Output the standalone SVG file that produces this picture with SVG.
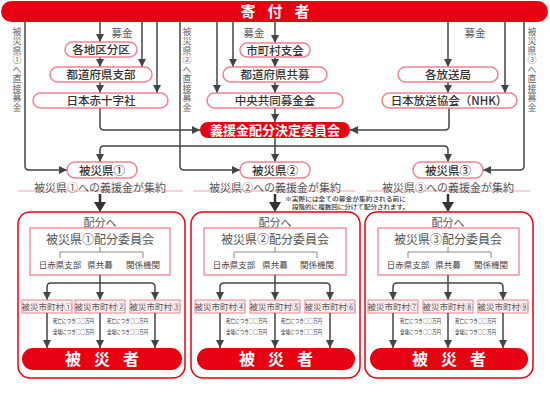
<svg xmlns="http://www.w3.org/2000/svg" width="550" height="400" viewBox="0 0 550 400">
<defs>
<marker id="ah" markerUnits="userSpaceOnUse" markerWidth="8" markerHeight="8" refX="8" refY="4" orient="auto">
<path d="M0,0 L8,4 L0,8 z" fill="#444"/>
</marker>
<style>
text{font-family:"Noto Sans CJK JP","Noto Sans CJK SC",sans-serif}
.lk{fill:none;stroke:#444;stroke-width:1.5}
.ar{marker-end:url(#ah)}
.nb{fill:#fff;stroke:#f0828f;stroke-width:1.5}
.nt{font-size:11.5px;fill:#333;text-anchor:middle;font-weight:500}
.rb{fill:#e60012}
.rt{fill:#fff;text-anchor:middle;font-weight:700}
.vt{font-size:9px;fill:#666;writing-mode:vertical-rl;letter-spacing:0.5px}
.bk{font-size:10.5px;fill:#555;text-anchor:middle}
.sum{font-size:11px;fill:#555;text-anchor:middle}
.pl{stroke:#f7c3cd;stroke-width:1.5}
.reg{fill:#fff;stroke:#e60012;stroke-width:1.5}
.ib{fill:#fff;stroke:#f0828f;stroke-width:1.3}
.tr{fill:none;stroke:#888;stroke-width:1}
.mb{fill:#fdeef0;stroke:#f0828f;stroke-width:1}
.mt{font-size:8.5px;fill:#555;text-anchor:middle}
.ht{font-size:11px;fill:#555;text-anchor:middle}
.ct{font-size:12px;fill:#555;text-anchor:middle}
.lt{font-size:8.5px;fill:#444;text-anchor:middle}
.sm{font-size:6px;fill:#333}
.nt2{font-size:6px;fill:#333;font-weight:500}
.ha{fill:#333}
</style>
</defs>

<g id="donor">
<rect class="rb" x="1" y="1" width="547" height="21" rx="10.5"/>
<text class="rt" x="275" y="17" font-size="15" letter-spacing="12" dx="6">寄付者</text>
</g>

<g id="labels-top">
<text class="vt" x="17" y="27">被災県①へ直接募金</text>
<text class="vt" x="187" y="27">被災県②へ直接募金</text>
<text class="vt" x="532" y="27">被災県③へ直接募金</text>
<text class="bk" x="122" y="37">募金</text>
<text class="bk" x="254" y="37">募金</text>
<text class="bk" x="475" y="37">募金</text>
</g>

<g id="connectors">
<path class="lk ar" d="M25,22 V166 Q25,170 29,170 H67"/>
<path class="lk ar" d="M100,22 V42"/>
<path class="lk ar" d="M142,22 V67"/>
<path class="lk ar" d="M157,22 V93"/>
<path class="lk ar" d="M180,22 V166 Q180,170 184,170 H240"/>
<path class="lk ar" d="M217,22 V93"/>
<path class="lk ar" d="M233,22 V67"/>
<path class="lk ar" d="M275,22 V43"/>
<path class="lk ar" d="M448,22 V67"/>
<path class="lk ar" d="M505,22 V93"/>
<path class="lk ar" d="M524,22 V166 Q524,170 520,170 H483"/>
<path class="lk ar" d="M100,57 V67"/>
<path class="lk ar" d="M100,82 V93"/>
<path class="lk ar" d="M275,57 V67"/>
<path class="lk ar" d="M275,82 V93"/>
<path class="lk ar" d="M275,108 V122"/>
<path class="lk ar" d="M448,82 V93"/>
<path class="lk ar" d="M100,108 V126 Q100,130 104,130 H200"/>
<path class="lk ar" d="M449,108 V126 Q449,130 445,130 H350"/>
<path class="lk ar" d="M275,138 V162"/>
<path class="lk ar" d="M275,146 H104 Q100,146 100,150 V162"/>
<path class="lk ar" d="M275,146 H444 Q448,146 448,150 V162"/>
</g>

<g id="n-kakuchiku"><rect class="nb" x="65" y="42" width="72" height="15" rx="7.5"/><text class="nt" x="101" y="54">各地区分区</text></g>
<g id="n-todofuken-shibu"><rect class="nb" x="50" y="67" width="102" height="15" rx="7.5"/><text class="nt" x="101" y="79">都道府県支部</text></g>
<g id="n-sekijuji"><rect class="nb" x="33" y="93" width="135" height="15" rx="7.5"/><text class="nt" x="101" y="105">日本赤十字社</text></g>
<g id="n-shichoson-shikai"><rect class="nb" x="240" y="43" width="70" height="14" rx="7"/><text class="nt" x="275" y="54.5">市町村支会</text></g>
<g id="n-todofuken-kyobo"><rect class="nb" x="223" y="67" width="104" height="15" rx="7.5"/><text class="nt" x="275" y="79">都道府県共募</text></g>
<g id="n-chuo"><rect class="nb" x="207" y="93" width="136" height="15" rx="7.5"/><text class="nt" x="275" y="105">中央共同募金会</text></g>
<g id="n-hosokyoku"><rect class="nb" x="398" y="67" width="100" height="15" rx="7.5"/><text class="nt" x="448" y="79">各放送局</text></g>
<g id="n-nhk"><rect class="nb" x="382" y="93" width="135" height="15" rx="7.5"/><text class="nt" x="449" y="105">日本放送協会（NHK）</text></g>
<g id="n-iinkai"><rect class="rb" x="200" y="122" width="150" height="16" rx="8"/><text class="rt" x="275" y="135" font-size="13">義援金配分決定委員会</text></g>

<g id="n-ken1"><rect class="nb" x="67" y="162" width="70" height="16" rx="8"/><text class="nt" x="102" y="174.5" font-size="11">被災県①</text></g>
<g id="n-ken2"><rect class="nb" x="240" y="162" width="70" height="16" rx="8"/><text class="nt" x="275" y="174.5" font-size="11">被災県②</text></g>
<g id="n-ken3"><rect class="nb" x="413" y="162" width="70" height="16" rx="8"/><text class="nt" x="448" y="174.5" font-size="11">被災県③</text></g>

<g id="summaries">
<line class="pl" x1="18" y1="191" x2="183" y2="191"/>
<line class="pl" x1="193" y1="191" x2="355" y2="191"/>
<line class="pl" x1="367" y1="191" x2="530" y2="191"/>
<text class="sum" x="100" y="192">被災県①への義援金が集約</text>
<text class="sum" x="275" y="192">被災県②への義援金が集約</text>
<text class="sum" x="448" y="192">被災県③への義援金が集約</text>
<text class="nt2" x="285" y="201" textLength="121" lengthAdjust="spacingAndGlyphs">※実際には全ての募金が集約される前に</text>
<text class="nt2" x="292" y="209" textLength="117" lengthAdjust="spacingAndGlyphs">段階的に複数回に分けて配分されます。</text>
</g>

<g id="heavy-arrows">
<line x1="100" y1="194" x2="100" y2="204" stroke="#333" stroke-width="2.5"/>
<polygon class="ha" points="94,202 106,202 100,212"/>
<line x1="275" y1="194" x2="275" y2="204" stroke="#333" stroke-width="2.5"/>
<polygon class="ha" points="269,202 281,202 275,212"/>
<line x1="448" y1="194" x2="448" y2="204" stroke="#333" stroke-width="2.5"/>
<polygon class="ha" points="442,202 454,202 448,212"/>
</g>

<g id="region1">
<rect class="reg" x="18" y="212" width="167" height="166" rx="12"/>
<text class="ht" x="100" y="227">配分へ</text>
<rect class="ib" x="30" y="228" width="140" height="47"/>
<text class="ct" x="100" y="244">被災県①配分委員会</text>
<path class="tr" d="M100,247 V252 M60,258 V252 H143 V258"/>
<text class="lt" x="60" y="268">日赤県支部</text>
<text class="lt" x="100" y="268">県共募</text>
<text class="lt" x="143" y="268">関係機関</text>
<path class="lk ar" d="M100,275 V300"/>
<path class="lk ar" d="M100,283 H51 Q47,283 47,287 V300"/>
<path class="lk ar" d="M100,283 H151 Q155,283 155,287 V300"/>
<rect class="mb" x="22" y="300" width="50" height="13"/><text class="mt" x="47" y="310">被災市町村①</text>
<rect class="mb" x="75" y="300" width="50" height="13"/><text class="mt" x="100" y="310">被災市町村②</text>
<rect class="mb" x="130" y="300" width="50" height="13"/><text class="mt" x="155" y="310">被災市町村③</text>
<path class="lk ar" d="M47,313 V348"/>
<path class="lk ar" d="M100,313 V348"/>
<path class="lk ar" d="M155,313 V348"/>
<text class="sm" x="53" y="323" textLength="41" lengthAdjust="spacingAndGlyphs">死亡につき○○万円</text>
<text class="sm" x="53" y="334" textLength="41" lengthAdjust="spacingAndGlyphs">全壊につき○○万円</text>
<text class="sm" x="107" y="323" textLength="41" lengthAdjust="spacingAndGlyphs">死亡につき○○万円</text>
<text class="sm" x="107" y="334" textLength="41" lengthAdjust="spacingAndGlyphs">全壊につき○○万円</text>
<rect class="rb" x="22" y="348" width="160" height="22" rx="11"/>
<text class="rt" x="102" y="365" font-size="16" letter-spacing="13" dx="6.5">被災者</text>
</g>

<g id="region2">
<rect class="reg" x="191" y="212" width="169" height="166" rx="12"/>
<text class="ht" x="275" y="227">配分へ</text>
<rect class="ib" x="204" y="228" width="142" height="47"/>
<text class="ct" x="275" y="244">被災県②配分委員会</text>
<path class="tr" d="M275,247 V252 M234,258 V252 H317 V258"/>
<text class="lt" x="234" y="268">日赤県支部</text>
<text class="lt" x="275" y="268">県共募</text>
<text class="lt" x="317" y="268">関係機関</text>
<path class="lk ar" d="M275,275 V300"/>
<path class="lk ar" d="M275,283 H224 Q220,283 220,287 V300"/>
<path class="lk ar" d="M275,283 H326 Q330,283 330,287 V300"/>
<rect class="mb" x="195" y="300" width="50" height="13"/><text class="mt" x="220" y="310">被災市町村④</text>
<rect class="mb" x="250" y="300" width="50" height="13"/><text class="mt" x="275" y="310">被災市町村⑤</text>
<rect class="mb" x="305" y="300" width="50" height="13"/><text class="mt" x="330" y="310">被災市町村⑥</text>
<path class="lk ar" d="M220,313 V348"/>
<path class="lk ar" d="M275,313 V348"/>
<path class="lk ar" d="M330,313 V348"/>
<text class="sm" x="226" y="323" textLength="41" lengthAdjust="spacingAndGlyphs">死亡につき○○万円</text>
<text class="sm" x="226" y="334" textLength="41" lengthAdjust="spacingAndGlyphs">全壊につき○○万円</text>
<text class="sm" x="281" y="323" textLength="41" lengthAdjust="spacingAndGlyphs">死亡につき○○万円</text>
<text class="sm" x="281" y="334" textLength="41" lengthAdjust="spacingAndGlyphs">全壊につき○○万円</text>
<rect class="rb" x="197" y="348" width="158" height="22" rx="11"/>
<text class="rt" x="276" y="365" font-size="16" letter-spacing="13" dx="6.5">被災者</text>
</g>

<g id="region3">
<rect class="reg" x="365" y="212" width="168" height="166" rx="12"/>
<text class="ht" x="448" y="227">配分へ</text>
<rect class="ib" x="378" y="228" width="141" height="47"/>
<text class="ct" x="448" y="244">被災県③配分委員会</text>
<path class="tr" d="M448,247 V252 M408,258 V252 H491 V258"/>
<text class="lt" x="408" y="268">日赤県支部</text>
<text class="lt" x="448" y="268">県共募</text>
<text class="lt" x="491" y="268">関係機関</text>
<path class="lk ar" d="M448,275 V300"/>
<path class="lk ar" d="M448,283 H397 Q393,283 393,287 V300"/>
<path class="lk ar" d="M448,283 H499 Q503,283 503,287 V300"/>
<rect class="mb" x="368" y="300" width="50" height="13"/><text class="mt" x="393" y="310">被災市町村⑦</text>
<rect class="mb" x="423" y="300" width="50" height="13"/><text class="mt" x="448" y="310">被災市町村⑧</text>
<rect class="mb" x="478" y="300" width="50" height="13"/><text class="mt" x="503" y="310">被災市町村⑨</text>
<path class="lk ar" d="M393,313 V348"/>
<path class="lk ar" d="M448,313 V348"/>
<path class="lk ar" d="M503,313 V348"/>
<text class="sm" x="400" y="323" textLength="41" lengthAdjust="spacingAndGlyphs">死亡につき○○万円</text>
<text class="sm" x="400" y="334" textLength="41" lengthAdjust="spacingAndGlyphs">全壊につき○○万円</text>
<text class="sm" x="455" y="323" textLength="41" lengthAdjust="spacingAndGlyphs">死亡につき○○万円</text>
<text class="sm" x="455" y="334" textLength="41" lengthAdjust="spacingAndGlyphs">全壊につき○○万円</text>
<rect class="rb" x="370" y="348" width="158" height="22" rx="11"/>
<text class="rt" x="449" y="365" font-size="16" letter-spacing="13" dx="6.5">被災者</text>
</g>
</svg>
